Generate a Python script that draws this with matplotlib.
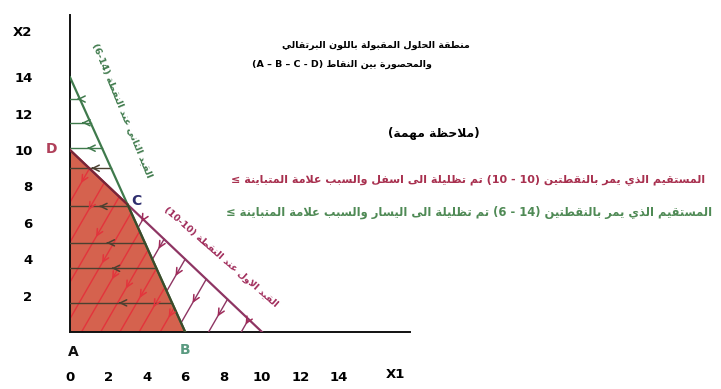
import math
import matplotlib
matplotlib.use("Agg")
import matplotlib.pyplot as plt
from matplotlib.patches import Polygon

# ---------------- data ----------------
x_ticks = [0, 2, 4, 6, 8, 10, 12, 14]
y_ticks = [2, 4, 6, 8, 10, 12, 14]

# constraint 1: line through (0,10) and (10,0)  -> x1 + x2 <= 10
c1_pts = [(0, 10), (10, 0)]
# constraint 2: line through (0,14) and (6,0)   -> 14 x1 + 6 x2 <= 84
c2_pts = [(0, 14), (6, 0)]

corner_names = ["A", "B", "C", "D"]
corner_pts = [(0, 0), (6, 0), (3, 7), (0, 10)]

# horizontal shading lines of constraint 2 (x2 levels)
c2_hatch_y = [12.8, 11.5, 10.1, 9.0, 6.9, 4.9, 3.5, 1.6]
# slanted shading lines of constraint 1 (x1 where they meet the x1 axis)
c1_hatch_b = [0.41, 2.11, 3.81, 5.51, 7.22, 8.92]
# red pencil lines inside the feasible region (x1 intercepts)
red_hatch_b = [-3.9, -2.7, -1.5, -0.4, 0.6, 1.6, 2.6, 3.6, 4.7]
hatch_slope = 0.547   # dx1 / dx2 of the slanted lines

title_1 = "منطقة الحلول المقبولة باللون البرتقالي"
title_2 = "والمحصورة بين النقاط (A – B – C - D)"
note = "(ملاحظة مهمة)"
line_red = "المستقيم الذي يمر بالنقطتين (10 - 10) تم تظليلة الى اسفل والسبب علامة المتباينة ≤"
line_green = "المستقيم الذي يمر بالنقطتين (14 - 6) تم تظليلة الى اليسار والسبب علامة المتباينة ≤"
label_c2 = "القيد الثاني عند النقطة (14-6)"
label_c1 = "القيد الاول عند النقطة (10-10)"

# ---------------- arabic shaping (no bidi in matplotlib) ----------------
DUAL = {'ئ': 0xFE89, 'ب': 0xFE8F, 'ت': 0xFE95, 'ث': 0xFE99, 'ج': 0xFE9D, 'ح': 0xFEA1,
        'خ': 0xFEA5, 'س': 0xFEB1, 'ش': 0xFEB5, 'ص': 0xFEB9, 'ض': 0xFEBD, 'ط': 0xFEC1,
        'ظ': 0xFEC5, 'ع': 0xFEC9, 'غ': 0xFECD, 'ف': 0xFED1, 'ق': 0xFED5, 'ك': 0xFED9,
        'ل': 0xFEDD, 'م': 0xFEE1, 'ن': 0xFEE5, 'ه': 0xFEE9, 'ي': 0xFEF1}
RIGHT = {'آ': 0xFE81, 'أ': 0xFE83, 'ؤ': 0xFE85, 'إ': 0xFE87, 'ا': 0xFE8D, 'ة': 0xFE93,
         'د': 0xFEA9, 'ذ': 0xFEAB, 'ر': 0xFEAD, 'ز': 0xFEAF, 'و': 0xFEED, 'ى': 0xFEEF}
LAMALEF = {'آ': 0xFEF5, 'أ': 0xFEF7, 'إ': 0xFEF9, 'ا': 0xFEFB}
MIRROR = {'(': ')', ')': '('}


def shape(s):
    chars = []
    i = 0
    while i < len(s):
        if s[i] == 'ل' and i + 1 < len(s) and s[i + 1] in LAMALEF:
            chars.append(('LA', s[i + 1]))
            i += 2
        else:
            chars.append((s[i], None))
            i += 1

    def fwd(k):
        return chars[k][0] in DUAL

    def back(k):
        c = chars[k][0]
        return c in DUAL or c in RIGHT or c == 'LA'

    out = []
    for k, (c, extra) in enumerate(chars):
        prev = k > 0 and fwd(k - 1) and back(k)
        nxt = k + 1 < len(chars) and fwd(k) and back(k + 1)
        if c == 'LA':
            out.append(chr(LAMALEF[extra] + (1 if prev else 0)))
        elif c in DUAL:
            form = 3 if (prev and nxt) else 1 if prev else 2 if nxt else 0
            out.append(chr(DUAL[c] + form))
        elif c in RIGHT:
            out.append(chr(RIGHT[c] + (1 if prev else 0)))
        else:
            out.append(c)
    return ''.join(out)


def ar(s):
    t = shape(s)
    units = []
    i, n = 0, len(t)
    while i < n:
        c = t[i]
        if c.isdigit():
            j = i
            while j < n and t[j].isdigit():
                j += 1
            units.append(t[i:j])
            i = j
        elif c.isascii() and c.isalpha():
            j, last = i, i
            while j < n and (t[j] in ' -–' or (t[j].isascii() and t[j].isalpha())):
                if t[j].isalpha():
                    last = j
                j += 1
            units.append(t[i:last + 1])
            i = last + 1
        else:
            units.append(MIRROR.get(c, c))
            i += 1
    return ''.join(reversed(units))


# ---------------- figure ----------------
W, H = 721, 389
fig = plt.figure(figsize=(W / 100, H / 100), dpi=100)
fig.patch.set_facecolor("white")


def px(x, y):
    return x / W, 1 - y / H


x0_px, y0_px, sx, sy = 70, 332, 19.2, 18.2
ax = fig.add_axes([x0_px / W, (H - y0_px) / H, (410 - x0_px) / W, (y0_px - 15) / H])
ax.set_xlim(0, (410 - x0_px) / sx)
ax.set_ylim(0, (y0_px - 15) / sy)
ax.set_facecolor("none")
for sp in ["top", "right"]:
    ax.spines[sp].set_visible(False)
for sp in ["left", "bottom"]:
    ax.spines[sp].set_linewidth(1.4)
    ax.spines[sp].set_color("#111111")

ax.set_xticks(x_ticks)
ax.set_xticklabels([str(v) for v in x_ticks], fontsize=9.5, fontweight="bold")
ax.set_yticks(y_ticks)
ax.set_yticklabels([str(v) for v in y_ticks], fontsize=9.5, fontweight="bold")
ax.tick_params(axis="x", length=0, pad=28)
ax.tick_params(axis="y", length=0, pad=27)

GREEN = "#3f7a4c"
PURPLE = "#8e3563"
REDFILL = "#d2553f"
REDLINE = "#e3343c"
DARK = "#4b4030"

# feasible region
region = Polygon(corner_pts, closed=True, facecolor=REDFILL, edgecolor="none", alpha=0.92, zorder=1)
ax.add_patch(region)

# constraint lines
ax.plot([p[0] for p in c1_pts], [p[1] for p in c1_pts], color=PURPLE, lw=1.6, zorder=4)
ax.plot([p[0] for p in c2_pts], [p[1] for p in c2_pts], color=GREEN, lw=1.6, zorder=4)
# region edges over the fill
ax.plot([corner_pts[3][0], corner_pts[2][0]], [corner_pts[3][1], corner_pts[2][1]], color="#7a2535", lw=1.6, zorder=5)
ax.plot([corner_pts[2][0], corner_pts[1][0]], [corner_pts[2][1], corner_pts[1][1]], color="#3c4a2a", lw=1.6, zorder=5)

k = hatch_slope


def arrow(xa, ya, xb, yb, color):
    ax.annotate("", xy=(xb, yb), xytext=(xa, ya),
                arrowprops=dict(arrowstyle="->,head_length=0.45,head_width=0.22", color=color, lw=1.1),
                zorder=6)


# horizontal hatches of constraint 2 (shaded to the left)
for yv in c2_hatch_y:
    xe = 6 - 3 * yv / 7
    col = GREEN if yv >= 10 else DARK
    ax.plot([0, xe], [yv, yv], color=col, lw=1.0, zorder=3)
    xm = 0.45 * xe
    arrow(xm + 0.35, yv, xm, yv, col)

# slanted hatches of constraint 1 outside the region (shaded downwards)
for b in c1_hatch_b:
    lo = max(0.0, (42 - 7 * b) / (7 * k + 3))
    hi = (10 - b) / (k + 1)
    if lo >= hi:
        continue
    ax.plot([b + k * lo, b + k * hi], [lo, hi], color=PURPLE, lw=1.0, zorder=3)
    ym = lo + 0.4 * (hi - lo)
    d = 0.45
    arrow(b + k * (ym + d), ym + d, b + k * ym, ym, "#a02b5a")

# red pencil lines inside the region
for b in red_hatch_b:
    lo = max(0.0, -b / k)
    hi = min((10 - b) / (k + 1), (42 - 7 * b) / (7 * k + 3))
    if lo >= hi:
        continue
    ax.plot([b + k * lo, b + k * hi], [lo, hi], color=REDLINE, lw=1.0, zorder=2)
    ym = lo + 0.5 * (hi - lo)
    arrow(b + k * (ym + 0.4), ym + 0.4, b + k * ym, ym, REDLINE)

# corner labels
ax.text(-0.95, 10.05, corner_names[3], color="#b0405a", fontsize=10, fontweight="bold", ha="center", va="center", clip_on=False)
ax.text(3.45, 7.2, corner_names[2], color="#2e2e6e", fontsize=10, fontweight="bold", ha="center", va="center")
ax.text(6.0, -1.0, corner_names[1], color="#5a9a80", fontsize=10, fontweight="bold", ha="center", va="center", clip_on=False)
ax.text(0.15, -1.1, corner_names[0], color="#111111", fontsize=10, fontweight="bold", ha="center", va="center", clip_on=False)

# axis names
fig.text(*px(22, 33), "X2", fontsize=9.5, fontweight="bold", ha="center", va="center")
fig.text(*px(395, 374), "X1", fontsize=9.5, fontweight="bold", ha="center", va="center")


# rotated constraint labels
def line_angle(p, q):
    a = ax.transData.transform(p)
    b2 = ax.transData.transform(q)
    return math.degrees(math.atan2(b2[1] - a[1], b2[0] - a[0]))


ang2 = line_angle(c2_pts[0], c2_pts[1]) - 2
ang1 = line_angle(c1_pts[0], c1_pts[1]) + 2.5
ax.text(2.75, 12.2, ar(label_c2), color=GREEN, fontsize=6.8, fontweight="bold",
        rotation=ang2, rotation_mode="anchor", ha="center", va="center")
ax.text(7.85, 4.1, ar(label_c1), color="#a02b5a", fontsize=6.8, fontweight="bold",
        rotation=ang1, rotation_mode="anchor", ha="center", va="center")

# titles and notes
fig.text(*px(470, 45), ar(title_1), fontsize=6.8, fontweight="bold", ha="right", va="center")
fig.text(*px(432, 64), ar(title_2), fontsize=6.8, fontweight="bold", ha="right", va="center")
fig.text(*px(480, 133), ar(note), fontsize=8.8, fontweight="bold", ha="right", va="center")
fig.text(*px(705, 180), ar(line_red), fontsize=8.0, fontweight="bold", color="#a8304f", ha="right", va="center")
fig.text(*px(712, 212), ar(line_green), fontsize=8.3, fontweight="bold", color="#4f8a55", ha="right", va="center")

fig.savefig("out.png", dpi=100)
